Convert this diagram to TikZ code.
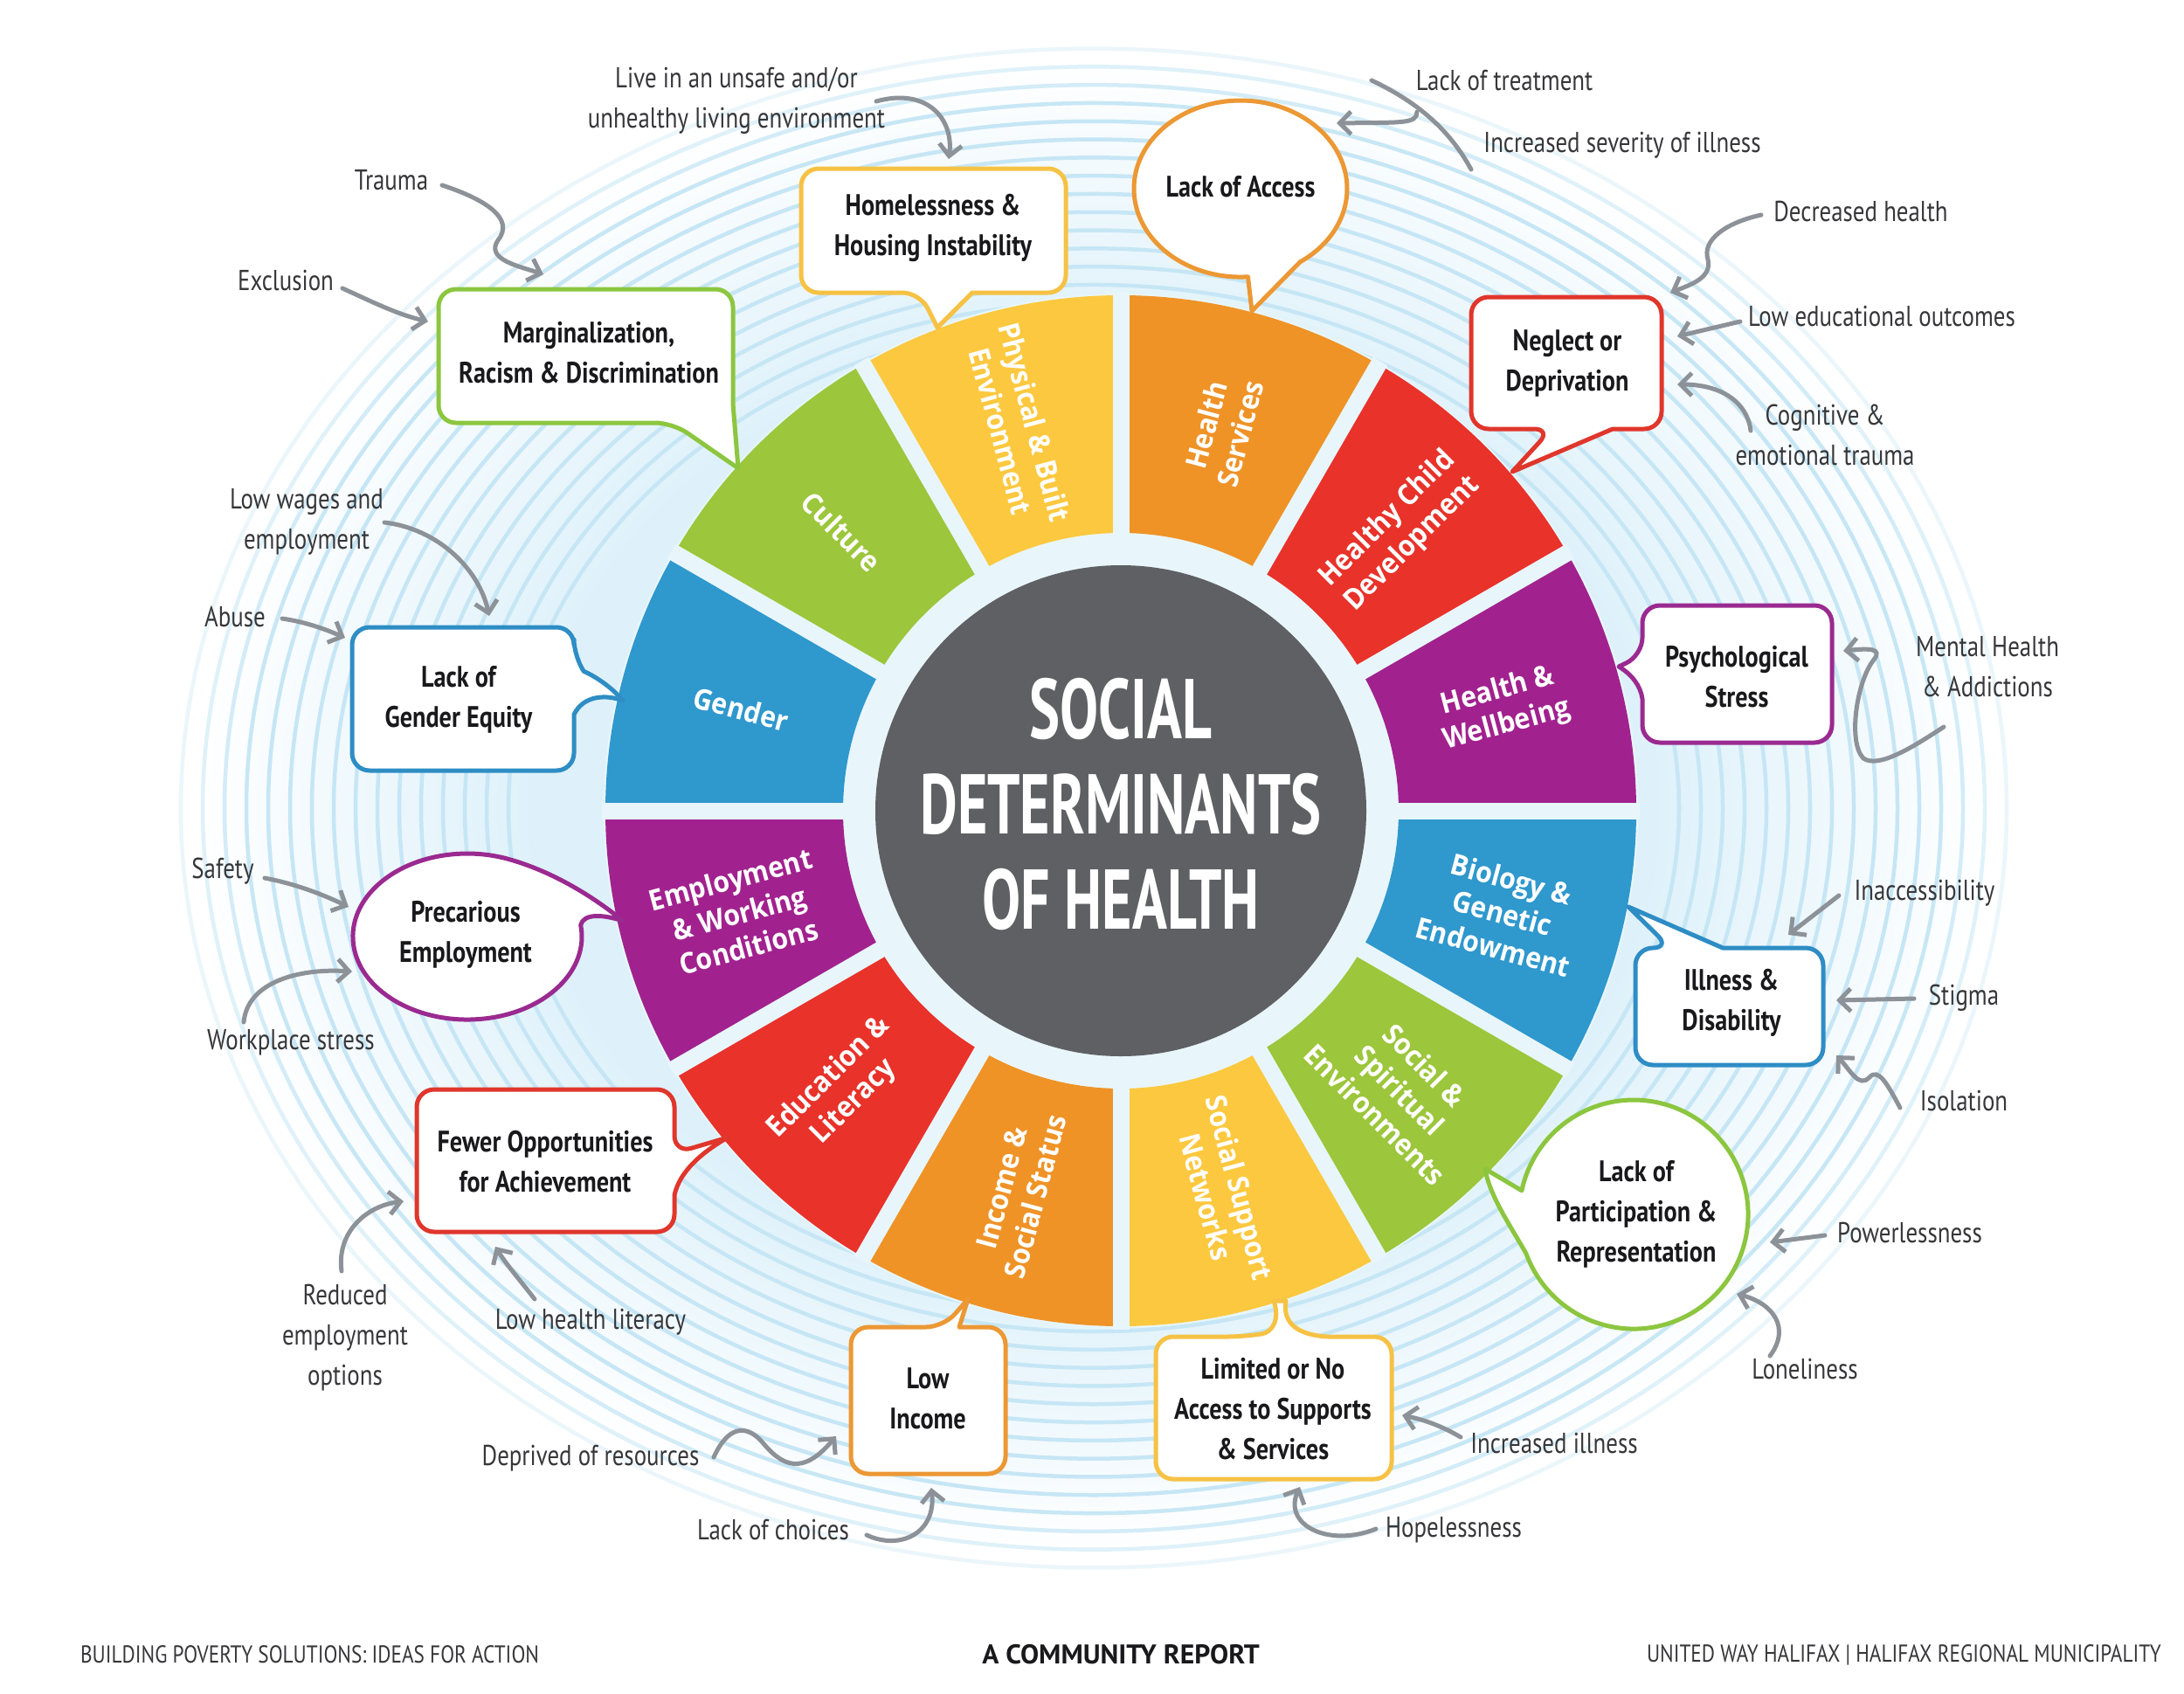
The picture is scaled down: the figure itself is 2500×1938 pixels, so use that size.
\documentclass[tikz,border=0pt]{standalone}
\usepackage{fontspec}
\usetikzlibrary{arrows.meta}
\newfontfamily\annfont{PT Sans}
\newfontfamily\callfont{PT Sans}
\newfontfamily\segfont{Open Sans}
\newfontfamily\titlefont{PT Sans}
\newfontfamily\footbold{PT Sans}
\definecolor{glowc}{RGB}{222,241,250}
\definecolor{ringc}{RGB}{198,230,245}
\definecolor{gapc}{RGB}{232,246,252}
\definecolor{cgray}{RGB}{95,96,100}
\definecolor{sgreen}{RGB}{156,198,59}
\definecolor{syellow}{RGB}{252,200,63}
\definecolor{sorange}{RGB}{239,147,39}
\definecolor{sred}{RGB}{232,50,42}
\definecolor{spurple}{RGB}{161,34,142}
\definecolor{sblue}{RGB}{47,152,205}
\definecolor{byellow}{RGB}{246,194,68}
\definecolor{borange}{RGB}{236,152,52}
\definecolor{bred}{RGB}{224,54,44}
\definecolor{bgreen}{RGB}{140,198,63}
\definecolor{bblue}{RGB}{46,141,196}
\definecolor{bpurple}{RGB}{154,42,144}
\definecolor{arrc}{RGB}{140,146,152}
\definecolor{anntext}{RGB}{55,55,58}
\definecolor{calltext}{RGB}{25,25,28}
\pgfdeclareradialshading{glow}{\pgfpoint{0bp}{0bp}}{color(0bp)=(glowc); color(15bp)=(glowc); color(24bp)=(white); color(25bp)=(white); color(50bp)=(white)}
\begin{document}
\begin{tikzpicture}[x=1pt,y=-1pt,
  ann/.style={font=\annfont\fontsize{33}{46}\selectfont, text=anntext, align=center, inner sep=0pt, xscale=0.815},
  callt/.style={font=\callfont\bfseries\fontsize{34}{46}\selectfont, text=calltext, align=center, inner sep=0pt, xscale=0.83},
  cbox/.style={fill=white, line width=5pt, line join=round},
  arr/.style={draw=arrc, line width=5pt, line cap=round, -{Straight Barb[length=13pt,width=26pt]}},
  seglab/.style={font=\segfont\bfseries\fontsize{33}{40}\selectfont, text=white, align=center, inner sep=0pt},
  foot/.style={font=\annfont\fontsize{28}{32}\selectfont, text=anntext, inner sep=0pt, xscale=0.83}
]
\path[use as bounding box, fill=white] (0,0) rectangle (2500,1938);
% background glow and rings
\shade[shading=glow] (1252,925) ellipse [x radius=1070, y radius=890];
\foreach \i in {0,...,15}{
  \pgfmathsetmacro\ra{1045-25*\i}
  \pgfmathsetmacro\rb{\ra*0.832}
  \pgfmathsetmacro\op{min(1,0.35+0.2*\i)}
  \draw[ringc, line width=4.5pt, opacity=\op] (1252,925) ellipse [x radius=\ra, y radius=\rb];
}
% wheel
\begin{scope}[shift={(1283,928)}, yscale=-1]
  \fill[gapc] (0,0) circle [radius=592];
  \foreach \a/\c in {0/spurple,30/sred,60/sorange,90/syellow,120/sgreen,150/sblue,180/spurple,210/sred,240/sorange,270/syellow,300/sgreen,330/sblue}{
    \fill[\c] (\a:318) arc[start angle=\a, end angle=\a+30, radius=318] -- ({\a+30}:590) arc[start angle=\a+30, end angle=\a, radius=590] -- cycle;
  }
  \foreach \a in {0,30,...,330}{
    \draw[gapc, line width=19pt] (\a:300) -- (\a:594);
  }
  \fill[cgray] (0,0) circle [radius=281];
  \node[font=\titlefont\bfseries\fontsize{97}{109}\selectfont, text=white, align=center, inner sep=0pt, xscale=0.68] (title) at (0,7) {SOCIAL\\DETERMINANTS\\OF HEALTH};
  \node[seglab, rotate=15, xscale=0.92] (sWell) at (15:452) {Health \&\\Wellbeing};
  \node[seglab, rotate=45, xscale=0.92] (sChild) at (45:452) {Healthy Child\\Development};
  \node[seglab, rotate=75, xscale=0.92] (sServ) at (75:452) {Health\\Services};
  \node[seglab, rotate=-75, xscale=0.92] (sPhys) at (105:455) {Physical \& Built\\Environment};
  \node[seglab, rotate=-45, xscale=0.92] (sCult) at (135:452) {Culture};
  \node[seglab, rotate=-15, xscale=0.92] (sGend) at (165:450) {Gender};
  \node[seglab, rotate=15, xscale=0.92] (sEmpl) at (195:452) {Employment\\\& Working\\Conditions};
  \node[seglab, rotate=45, xscale=0.92] (sEduc) at (225:452) {Education \&\\Literacy};
  \node[seglab, rotate=75, xscale=0.92] (sInc) at (255:452) {Income \&\\Social Status};
  \node[seglab, rotate=-75, xscale=0.92] (sSupp) at (285:452) {Social Support\\Networks};
  \node[seglab, rotate=-45, xscale=0.92] (sSpir) at (315:452) {Social \&\\Spiritual\\Environments};
  \node[seglab, rotate=-15, xscale=0.92] (sBio) at (345:452) {Biology \&\\Genetic\\Endowment};
\end{scope}
% callouts
\draw[cbox, draw=byellow] (1053,335) -- (1073,375) -- (1113,335) [rounded corners=20pt] -- (1220,335) -- (1220,193) -- (917,193) -- (917,335) -- cycle;
\node[callt] (cHome) at (1068,261) {Homelessness \&\\Housing Instability};
\draw[cbox, draw=borange] (1428.5,316.8) arc[start angle=86, end angle=416, x radius=122, y radius=101] -- (1433,356) -- cycle;
\node[callt] (cAccess) at (1420,214) {Lack of Access};
\draw[cbox, draw=bred] (1776,491) -- (1731,540) -- (1846,491) [rounded corners=20pt] -- (1902,491) -- (1902,340) -- (1684,340) -- (1684,491) -- cycle;
\node[callt] (cNeglect) at (1794,416) {Neglect or\\Deprivation};
\draw[cbox, draw=bgreen] (770,484) -- (845,536) -- (839,462) [rounded corners=20pt] -- (839,331) -- (502,331) -- (502,484) -- cycle;
\node[callt] (cMarg) at (674,404) {Marginalization,\\Racism \& Discrimination};
\draw[cbox, draw=bblue] (657,752) .. controls (668,768) and (695,780) .. (713,802) .. controls (695,795) and (668,795) .. (657,818) [rounded corners=20pt] -- (657,882) -- (403,882) -- (403,718) -- (657,718) -- cycle;
\node[callt] (cGender) at (525,801) {Lack of\\Gender Equity};
\draw[cbox, draw=bpurple] (664.7,1058.8) arc[start angle=-8, end angle=290, x radius=131, y radius=95] .. controls (640,999) and (690,1035) .. (713,1054) .. controls (688,1046) and (668,1046) .. (664.7,1058.8) -- cycle;
\node[callt] (cPrec) at (533,1070) {Precarious\\Employment};
\draw[cbox, draw=bred] (772,1320) -- (833,1302) .. controls (805,1318) and (778,1340) .. (772,1368) [rounded corners=20pt] -- (772,1410) -- (477,1410) -- (477,1247) -- (772,1247) -- cycle;
\node[callt] (cFewer) at (624,1330) {Fewer Opportunities\\for Achievement};
\draw[cbox, draw=borange] (1080,1519) -- (1108,1487) -- (1098,1519) [rounded corners=20pt] -- (1151,1519) -- (1151,1687) -- (974,1687) -- (974,1519) -- cycle;
\node[callt] (cIncome) at (1062,1601) {Low\\Income};
\draw[cbox, draw=byellow] (1425,1530) .. controls (1455,1525) and (1466,1512) .. (1458,1489) -- (1472,1489) .. controls (1468,1512) and (1482,1528) .. (1520,1530) [rounded corners=20pt] -- (1593,1530) -- (1593,1693) -- (1323,1693) -- (1323,1530) -- cycle;
\node[callt] (cLimited) at (1457,1613) {Limited or No\\Access to Supports\\\& Services};
\draw[cbox, draw=bgreen] (1741.9,1362.8) arc[start angle=192, end angle=520, radius=131] .. controls (1727,1400) and (1705,1368) .. (1700,1338) -- cycle;
\node[callt] (cPart) at (1873,1390) {Lack of\\Participation \&\\Representation};
\draw[cbox, draw=bblue] (1912,1085) -- (1864,1038) -- (1972,1085) [rounded corners=20pt] -- (2087,1085) -- (2087,1219) -- (1872,1219) -- (1872,1085) -- cycle;
\node[callt] (cIll) at (1982,1148) {Illness \&\\Disability};
\draw[cbox, draw=bpurple] (1880,750) -- (1853,763) .. controls (1868,772) and (1878,785) .. (1880,800) [rounded corners=20pt] -- (1880,850) -- (2097,850) -- (2097,693) -- (1880,693) -- cycle;
\node[callt] (cPsych) at (1988,775) {Psychological\\Stress};
% annotations
\node[ann] (tLive) at (843,115) {Live in an unsafe and/or\\unhealthy living environment};
\draw[arr] (1003,116) .. controls (1060,100) and (1092,135) .. (1086,182);
\node[ann] (tTrauma) at (448,206) {Trauma};
\draw[arr] (506,212) .. controls (555,228) and (590,250) .. (570,275) .. controls (555,297) and (595,305) .. (622,314);
\node[ann] (tExcl) at (327,321) {Exclusion};
\draw[arr] (392,330) .. controls (425,345) and (455,360) .. (490,368);
\node[ann] (tWages) at (351,597) {Low wages and\\employment};
\draw[arr] (440,598) .. controls (500,605) and (548,650) .. (560,705);
\node[ann] (tAbuse) at (269,706) {Abuse};
\draw[arr] (323,708) .. controls (350,712) and (372,720) .. (395,730);
\node[ann] (tSafety) at (255,997) {Safety};
\draw[arr] (303,1005) .. controls (340,1012) and (372,1025) .. (399,1038);
\node[ann] (tWork) at (333,1193) {Workplace stress};
\draw[arr] (279,1170) .. controls (283,1125) and (340,1108) .. (403,1112);
\node[ann] (tReduced) at (395,1531) {Reduced\\employment\\options};
\draw[arr] (391,1455) .. controls (385,1410) and (420,1380) .. (462,1375);
\node[ann] (tLit) at (676,1513) {Low health literacy};
\draw[arr] (612,1487) .. controls (595,1465) and (580,1448) .. (567,1427);
\node[ann] (tDepr) at (676,1669) {Deprived of resources};
\draw[arr] (817,1668) .. controls (832,1635) and (852,1628) .. (872,1650) .. controls (895,1678) and (918,1690) .. (957,1644);
\node[ann] (tChoice) at (885,1751) {Lack of choices};
\draw[arr] (992,1757) .. controls (1030,1775) and (1072,1755) .. (1066,1703);
\node[ann] (tHope) at (1664,1751) {Hopelessness};
\draw[arr] (1575,1750) .. controls (1520,1772) and (1468,1745) .. (1488,1702);
\node[ann] (tIncIll) at (1779,1652) {Increased illness};
\draw[arr] (1672,1645) .. controls (1650,1632) and (1630,1625) .. (1605,1620);
\node[ann] (tLone) at (2066,1567) {Loneliness};
\draw[arr] (2026,1552) .. controls (2050,1520) and (2030,1492) .. (1988,1481);
\node[ann] (tPower) at (2186,1411) {Powerlessness};
\draw[arr] (2089,1414) -- (2026,1422);
\node[ann] (tIsol) at (2248,1260) {Isolation};
\draw[arr] (2175,1268) .. controls (2160,1240) and (2150,1222) .. (2140,1233) .. controls (2128,1246) and (2118,1225) .. (2102,1208);
\node[ann] (tStigma) at (2248,1142) {Stigma};
\draw[arr] (2191,1143) -- (2102,1145);
\node[ann] (tInacc) at (2203,1022) {Inaccessibility};
\draw[arr] (2105,1025) -- (2047,1070);
\node[ann] (tMental) at (2275,763) {Mental Health\\\& Addictions};
\draw[arr] (2225,832) .. controls (2190,855) and (2150,880) .. (2133,868) .. controls (2115,850) and (2125,780) .. (2145,755) .. controls (2155,742) and (2140,742) .. (2110,745);
\node[ann] (tTreat) at (1722,92) {Lack of treatment};
\node[ann] (tSever) at (1857,166) {Increased severity of illness};
\draw[draw=arrc, line width=5pt, line cap=round] (1570,92) .. controls (1625,118) and (1660,150) .. (1684,194);
\draw[arr] (1622,128) .. controls (1622,142) and (1605,140) .. (1530,141);
\node[ann] (tDecr) at (2130,242) {Decreased health};
\draw[arr] (2016,246) .. controls (1975,255) and (1948,275) .. (1955,297) .. controls (1960,318) and (1935,326) .. (1912,335);
\node[ann] (tEduc) at (2154,362) {Low educational outcomes};
\draw[arr] (1992,368) -- (1920,385);
\node[ann] (tCogn) at (2089,498) {Cognitive \&\\emotional trauma};
\draw[arr] (2004,493) .. controls (2000,460) and (1970,440) .. (1920,440);
% footer
\node[foot, anchor=west] (fLeft) at (92,1894) {BUILDING POVERTY SOLUTIONS: IDEAS FOR ACTION};
\node[font=\footbold\bfseries\fontsize{31}{34}\selectfont, text=calltext, inner sep=0pt, xscale=1.02] (fMid) at (1283,1894) {A COMMUNITY REPORT};
\node[foot, anchor=east] (fRight) at (2474,1894) {UNITED WAY HALIFAX \textbar\ HALIFAX REGIONAL MUNICIPALITY};
\end{tikzpicture}
\end{document}
